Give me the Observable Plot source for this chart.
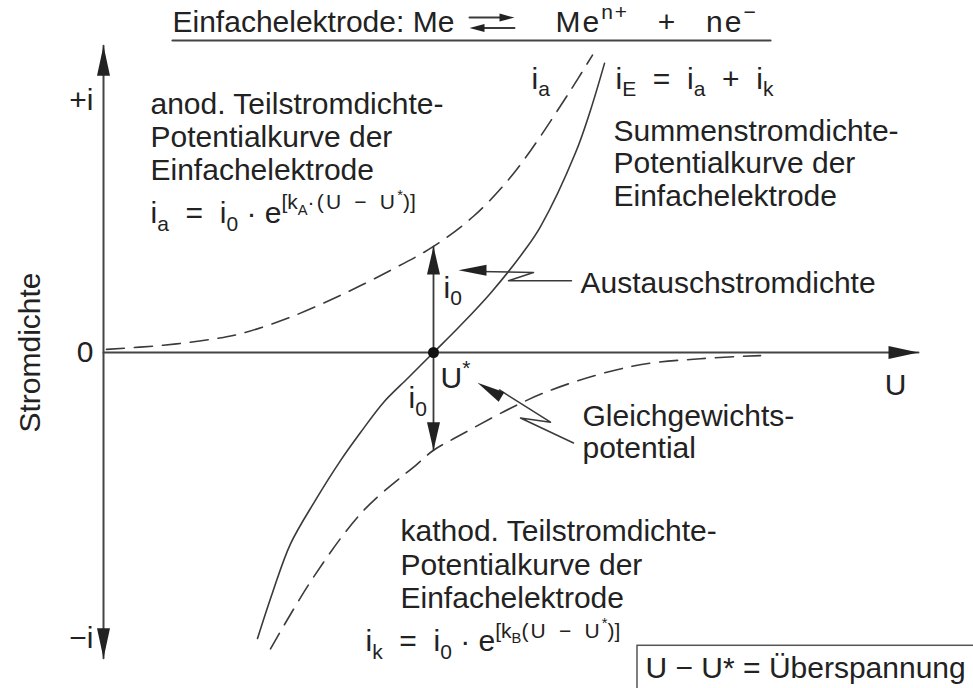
<!DOCTYPE html>
<html>
<head>
<meta charset="utf-8">
<script src="https://cdn.jsdelivr.net/npm/d3@7"></script>
<script src="https://cdn.jsdelivr.net/npm/@observablehq/plot@0.6"></script>
<style>
  html, body { margin: 0; padding: 0; background: #fff; }
  #chart svg { display: block; }
</style>
</head>
<body>
<div id="chart"></div>
<script>
// Overvoltage U − U* (U* = 0) and current density in units of the exchange current density i0.

// anodic partial current density i_a (dashed, upper branch)
const anodicU = [-3.27, -2.70, -2.20, -1.93, -1.43, -0.93, -0.43, 0, 0.40, 0.74, 0.97, 1.37, 1.59];
const anodicI = [0.03, 0.07, 0.13, 0.18, 0.34, 0.55, 0.79, 1.02, 1.31, 1.65, 1.94, 2.52, 2.86];

// cathodic partial current density i_k (dashed, lower branch)
const cathodicU = [-1.63, -1.20, -0.70, -0.16, 0, 0.20, 1.10, 2.00, 2.67, 3.27];
const cathodicI = [-2.85, -2.16, -1.52, -1.07, -0.94, -0.83, -0.39, -0.13, -0.06, -0.03];

// summed current density i_E = i_a + i_k (solid)
const totalU = [-1.76, -1.61, -1.43, -1.18, -0.93, -0.73, -0.50, -0.25, 0, 0.25, 0.57, 0.91, 1.07, 1.42, 1.57, 1.71];
const totalI = [-2.75, -2.31, -1.84, -1.42, -1.04, -0.77, -0.48, -0.24, 0, 0.24, 0.57, 0.98, 1.21, 1.92, 2.33, 2.78];

// current-density axis labels
const yTickValues = [2.42, 0, -2.75];
const yTickLabels = ["+i", "0", "\u2212i"];

// scale extents
const uDomain = [-3.30, 4.85];
const iDomain = [-3, 3];

const toRows = (us, is) => us.map((u, k) => ({U: u, i: is[k]}));
const anodic = toRows(anodicU, anodicI);
const cathodic = toRows(cathodicU, cathodicI);
const total = toRows(totalU, totalI);

// both partial curves cross U* at ±i0
const iAnodicAtEq = anodic.find(d => d.U === 0).i;
const iCathodicAtEq = cathodic.find(d => d.U === 0).i;

const yLabelOf = new Map(yTickValues.map((v, k) => [v, yTickLabels[k]]));

const ink = "#222";
const lineInk = "#3a3a3a";
const dash = "18,10";

// filled arrowhead whose tip sits on the anchor point; angle in screen degrees (0 = right)
function head(angle, len, wid) {
  const a = angle * Math.PI / 180, dx = Math.cos(a), dy = Math.sin(a);
  return {
    draw(ctx) {
      const bx = -len * dx, by = -len * dy, px = -dy * wid / 2, py = dx * wid / 2;
      ctx.moveTo(0, 0);
      ctx.lineTo(bx + px, by + py);
      ctx.lineTo(bx - px, by - py);
      ctx.closePath();
    }
  };
}
const arrowHead = (U, i, angle, len, wid) =>
  Plot.dot([{U, i}], {x: "U", y: "i", r: 5, symbol: head(angle, len, wid), fill: ink, stroke: "none"});

const path = (pts, opts = {}) =>
  Plot.line(pts.map(([U, i]) => ({U, i})), {x: "U", y: "i", stroke: lineInk, strokeWidth: 1.5, ...opts});

// text annotations: [U, i, text]
const notes = [
  [-2.83, 2.39, "anod. Teilstromdichte-"],
  [-2.83, 2.07, "Potentialkurve der"],
  [-2.83, 1.75, "Einfachelektrode"],
  [-2.83, 1.34, "i_{a}  =  i_{0} \u00b7 e^{[k_{A}\u00b7(U \u2212 U^{*})]}"],
  [0.98, 2.63, "i_{a}"],
  [1.82, 2.63, "i_{E}  =  i_{a}  +  i_{k}"],
  [1.80, 2.13, "Summenstromdichte-"],
  [1.80, 1.82, "Potentialkurve der"],
  [1.80, 1.50, "Einfachelektrode"],
  [1.47, 0.66, "Austauschstromdichte"],
  [1.49, -0.61, "Gleichgewichts-"],
  [1.49, -0.92, "potential"],
  [-0.33, -1.72, "kathod. Teilstromdichte-"],
  [-0.33, -2.05, "Potentialkurve der"],
  [-0.33, -2.36, "Einfachelektrode"],
  [-0.68, -2.78, "i_{k}  =  i_{0} \u00b7 e^{[k_{B}(U \u2212 U^{*})]}"],
  [0.10, 0.62, "i_{0}"],
  [-0.25, -0.44, "i_{0}"],
  [0.07, -0.25, "U^{*}"],
  [2.12, -3.04, "U \u2212 U* = \u00dcberspannung"]
].map(([U, i, text]) => ({U, i, text}));

// reaction equation above the chart
const titleParts = [
  [-2.61, 3.17, "Einfachelektrode: Me"],
  [1.22, 3.17, "Me^{n+}  +  ne^{\u2212}"]
].map(([U, i, text]) => ({U, i, text}));

const plot = Plot.plot({
  width: 973,
  height: 688,
  marginLeft: 103,
  marginRight: 55,
  marginTop: 40,
  marginBottom: 24,
  x: {domain: uDomain, axis: null},
  y: {domain: iDomain},
  style: {
    fontFamily: "'Liberation Sans', Arial, sans-serif",
    fontSize: "30px",
    color: ink,
    background: "#fff",
    overflow: "visible"
  },
  marks: [
    // axes with arrowheads
    path([[uDomain[0], -2.94], [uDomain[0], 2.95]], {strokeWidth: 2, stroke: "#444"}),
    path([[uDomain[0], 0], [uDomain[1], 0]], {strokeWidth: 2, stroke: "#444"}),
    arrowHead(uDomain[0], 2.95, -90, 30, 13),
    arrowHead(uDomain[0], -2.94, 90, 30, 13),
    arrowHead(uDomain[1], 0, 0, 30, 13),
    Plot.axisY(yTickValues, {
      tickSize: 0,
      tickPadding: 10,
      fontSize: 30,
      tickFormat: d => yLabelOf.get(d)
    }),
    Plot.text(["Stromdichte"], {x: () => -4.03, y: () => 0, text: d => d, rotate: -90, fontSize: 30, fill: ink}),
    Plot.text(["U"], {x: () => 4.62, y: () => -0.32, text: d => d, fontSize: 30, fill: ink}),

    // current density curves
    Plot.line(anodic, {x: "U", y: "i", curve: "catmull-rom", stroke: lineInk, strokeWidth: 1.6, strokeDasharray: dash}),
    Plot.line(cathodic, {x: "U", y: "i", curve: "catmull-rom", stroke: lineInk, strokeWidth: 1.6, strokeDasharray: dash}),
    Plot.line(total, {x: "U", y: "i", curve: "catmull-rom", stroke: lineInk, strokeWidth: 1.6}),

    // exchange current density arrows at U*
    path([[0, 0], [0, iAnodicAtEq]], {strokeWidth: 1.8}),
    path([[0, 0], [0, iCathodicAtEq]], {strokeWidth: 1.8}),
    arrowHead(0, iAnodicAtEq, -90, 28, 13),
    arrowHead(0, iCathodicAtEq, 90, 28, 13),
    Plot.dot([{U: 0, i: 0}], {x: "U", y: "i", r: 5.5, fill: "#111", stroke: "none"}),

    // leader for "Austauschstromdichte" with a break where it crosses the curve
    path([[1.38, 0.69], [0.75, 0.69], [1.00, 0.77], [0.45, 0.78]]),
    arrowHead(0.25, 0.79, 180, 28, 11),

    // leader for "Gleichgewichtspotential"
    path([[1.40, -0.87], [0.87, -0.63], [1.17, -0.67], [0.66, -0.36]]),
    arrowHead(0.44, -0.29, -149, 28, 11),

    // box around the overvoltage definition
    Plot.rect([{x1: 2.04, x2: 5.6, y1: -2.82, y2: -3.4}], {x1: "x1", x2: "x2", y1: "y1", y2: "y2", fill: "none", stroke: "#555", strokeWidth: 1.5}),

    // reaction title: underline and double arrow
    path([[-2.61, 3.0], [3.37, 3.0]], {strokeWidth: 2.2, stroke: "#444"}),
    path([[0.36, 3.22], [0.74, 3.22]], {strokeWidth: 2}),
    arrowHead(0.81, 3.22, 0, 15, 8),
    path([[0.43, 3.12], [0.81, 3.12]], {strokeWidth: 2}),
    arrowHead(0.36, 3.12, 180, 15, 8),
    Plot.text(titleParts, {x: "U", y: "i", text: "text", textAnchor: "start", fontSize: 30, fill: ink}),

    // text annotations
    Plot.text(notes, {x: "U", y: "i", text: "text", textAnchor: "start", fontSize: 30, fill: ink})
  ]
});

document.getElementById("chart").appendChild(plot);

// widen the right-hand side of the reaction equation
d3.select(plot).selectAll("text").filter(function () {
  return this.textContent.startsWith("Me^{");
}).attr("letter-spacing", 2).attr("word-spacing", 4);

// turn _{..} and ^{..} markup into sub/superscript tspans
function runs(s) {
  const out = [], stack = [{shift: 0, scale: 1}];
  let buf = "";
  const flush = () => {
    if (buf) { const t = stack[stack.length - 1]; out.push({t: buf, shift: t.shift, scale: t.scale}); buf = ""; }
  };
  for (let k = 0; k < s.length; k++) {
    const c = s[k];
    if ((c === "_" || c === "^") && s[k + 1] === "{") {
      flush();
      const t = stack[stack.length - 1];
      stack.push({shift: t.shift + (c === "_" ? 0.26 : -0.45) * t.scale, scale: t.scale * 0.7});
      k++;
    } else if (c === "}" && stack.length > 1) {
      flush();
      stack.pop();
    } else buf += c;
  }
  flush();
  return out;
}

d3.select(plot).selectAll("text").each(function () {
  const s = this.textContent;
  if (!/[_^]\{/.test(s)) return;
  const base = parseFloat(getComputedStyle(this).fontSize) || 30;
  const el = d3.select(this);
  el.text(null);
  let cur = 0;
  for (const r of runs(s)) {
    const t = el.append("tspan")
      .attr("font-size", base * r.scale)
      .attr("dy", (r.shift - cur) * base)
      .text(r.t);
    // exponents are set with generous spacing
    if (r.shift < -0.2 && r.t.length > 2) t.attr("letter-spacing", 2.2).attr("word-spacing", 3);
    cur = r.shift;
  }
});
</script>
</body>
</html>
